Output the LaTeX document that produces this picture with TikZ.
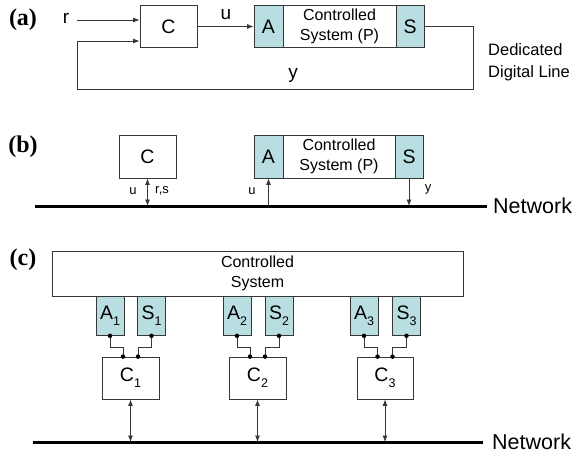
\documentclass[tikz,border=0pt]{standalone}
\usepackage{fontspec}
\setmainfont{Liberation Sans}
\newfontfamily\tagfont{Liberation Serif}
\usetikzlibrary{arrows.meta,calc}
\definecolor{tealbg}{RGB}{184,222,225}
\definecolor{edge}{RGB}{55,55,55}
\newcommand\subidx[1]{\raisebox{-0.3em}{\fontsize{12.5}{13}\selectfont #1}}
\begin{document}
\begin{tikzpicture}[x=1pt,y=-1pt,
  blk/.style={draw=edge, line width=0.8pt, fill=white, inner sep=0pt, align=center,
              font=\fontsize{19.5}{21}\selectfont},
  io/.style={blk, fill=tealbg},
  sys/.style={blk, font=\fontsize{16}{20}\selectfont},
  wire/.style={draw=edge, line width=0.8pt},
  arr/.style={wire, -{Latex[length=6.5pt,width=5pt]}},
  darr/.style={wire, {Latex[length=6.5pt,width=5pt]}-{Latex[length=6.5pt,width=5pt]}},
  net/.style={draw=black, line width=3pt},
  tag/.style={font=\fontsize{24}{26}\selectfont\tagfont\bfseries, inner sep=0pt},
  lbl/.style={font=\fontsize{19}{20}\selectfont, inner sep=0pt},
  small/.style={font=\fontsize{13}{14}\selectfont, inner sep=0pt},
  netlbl/.style={font=\fontsize{21.5}{24}\selectfont, inner sep=0pt, anchor=west},
  dot/.style={circle, fill=black, draw=none, inner sep=0pt, minimum size=4.5pt},
]
\useasboundingbox (0,0) rectangle (576,456);

% ---------------- (a) dedicated digital line ----------------
\node[tag] (ta) at (23,20) {(a)};
\node[blk, minimum width=57, minimum height=42] (Ca) at (168.5,26.5) {C};
\node[io,  minimum width=29, minimum height=42] (Aa) at (268.5,26.5) {A};
\node[sys, minimum width=113, minimum height=42] (Pa) at (339.5,26.5) {Controlled\\System (P)};
\node[io,  minimum width=28, minimum height=42] (Sa) at (410,26.5) {S};

\node[lbl] (ra) at (66,18) {r};
\node[lbl] (ua) at (226,15) {u};
\node[lbl] (ya) at (293,75) {y};
\node[font=\fontsize{16.5}{22}\selectfont, align=left, anchor=west, inner sep=0pt] (dl) at (488,62)
  {Dedicated\\Digital Line};

\coordinate (rin) at (77,20);
\coordinate (fbR) at (473,89);
\coordinate (fbL) at (77,89);
\draw[arr] (rin) -- (Ca.west |- rin);
\draw[arr] (Ca.east) -- (Aa.west);
\draw[arr] (Sa.east) -| (fbR) -- (fbL) |- ($(Ca.west)+(0,14.5)$);

% ---------------- (b) shared network ----------------
\node[tag] (tb) at (23,147) {(b)};
\node[blk, minimum width=57, minimum height=43] (Cb) at (147.5,156.5) {C};
\node[io,  minimum width=29, minimum height=43] (Ab) at (268.5,156.5) {A};
\node[sys, minimum width=112, minimum height=43] (Pb) at (339,156.5) {Controlled\\System (P)};
\node[io,  minimum width=28, minimum height=43] (Sb) at (409,156.5) {S};

\coordinate (nbL) at (35,206);
\coordinate (nbR) at (487,206);
\draw[net] (nbL) -- (nbR);
\node[netlbl] (nbT) at (493,206) {Network};

\draw[darr] (Cb.south) -- (Cb.south |- nbL);
\draw[arr] (Ab.south |- nbL) -- (Ab.south);
\draw[arr] (Sb.south) -- (Sb.south |- nbL);

\node[small] (ub1) at (133,191) {u};
\node[small] (rsb) at (162,191) {r,s};
\node[small] (ub2) at (252,191) {u};
\node[small] (yb)  at (428,189) {y};

% ---------------- (c) distributed control ----------------
\node[tag] (tc) at (23,260) {(c)};
\node[sys, minimum width=411, minimum height=45] (Pc) at (257.5,273.5) {Controlled\\System};

\foreach \i/\ax/\sx in {1/110/151.5, 2/237/279, 3/364/406.5}{
  \node[io, minimum width=28, minimum height=39, anchor=north] (A\i) at (\ax,296) {A\subidx{\i}};
  \node[io, minimum width=28, minimum height=39, anchor=north] (S\i) at (\sx,296) {S\subidx{\i}};
}
\node[blk, minimum width=57, minimum height=42] (C1) at (130.5,378) {C\subidx{1}};
\node[blk, minimum width=57, minimum height=42] (C2) at (257.5,378) {C\subidx{2}};
\node[blk, minimum width=56, minimum height=42] (C3) at (385,378) {C\subidx{3}};

\coordinate (ncL) at (33,442);
\coordinate (ncR) at (483,442);
\draw[net] (ncL) -- (ncR);
\node[netlbl] (ncT) at (492,442) {Network};

\foreach \i in {1,2,3}{
  \coordinate (Cin\i) at ($(C\i.north)+(-7.5,0)$);
  \coordinate (Cis\i) at ($(C\i.north)+(7.5,0)$);
  \draw[wire] (A\i.south) -- ++(0,12) -| (Cin\i);
  \draw[wire] (S\i.south) -- ++(0,12) -| (Cis\i);
  \node[dot] (dA\i) at (A\i.south) {};
  \node[dot] (dS\i) at (S\i.south) {};
  \node[dot] (dCa\i) at (Cin\i) {};
  \node[dot] (dCs\i) at (Cis\i) {};
  \draw[darr] (C\i.south) -- (C\i.south |- ncL);
}
\end{tikzpicture}
\end{document}
